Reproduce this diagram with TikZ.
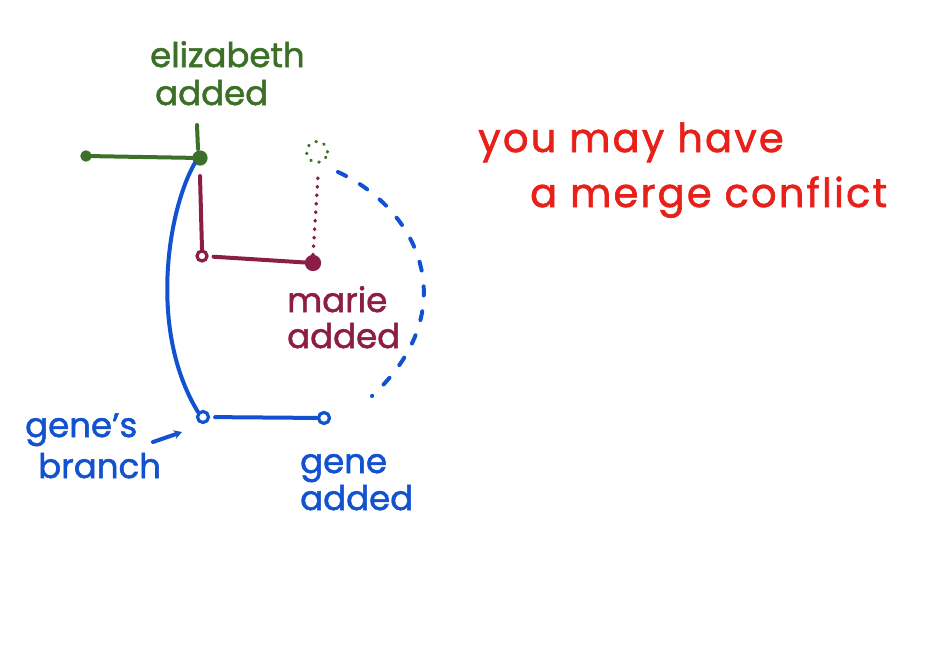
\documentclass[tikz,border=0pt]{standalone}
\usepackage{fontspec}
\setmainfont{Poppins}[FakeBold=1.6]
\usetikzlibrary{arrows.meta}
\definecolor{eg}{RGB}{60,112,40}
\definecolor{mr}{RGB}{140,30,70}
\definecolor{bl}{RGB}{18,82,208}
\definecolor{rd}{RGB}{232,32,26}
\tikzset{
  pen/.style={line width=4pt, line cap=round},
  lbl/.style={anchor=base west, inner sep=0pt, font=\fontsize{34}{34}\selectfont},
  bigl/.style={anchor=base west, inner sep=0pt, font=\fontsize{40}{40}\selectfont\addfontfeatures{LetterSpace=5.5}},
  dotc/.style={circle, inner sep=0pt, line width=3.2pt},
  sparsedots/.style={line cap=round, dash pattern=on 0.5pt off 8pt},
}
\begin{document}
\begin{tikzpicture}[x=1pt,y=-1pt]
\useasboundingbox (0,0) rectangle (930,646);
% green
\node[dotc, draw=eg, fill=eg, minimum size=8pt] (g0) at (86,156) {};
\node[dotc, draw=eg, fill=eg, minimum size=12pt] (e) at (200,158) {};
\node[dotc, draw=eg, sparsedots, line width=3.2pt, minimum size=21pt] (ghost) at (317,152) {};
\draw[pen, eg] (g0) -- (e);
\coordinate (t1) at (197,125);
\coordinate (t2) at (198,149);
\draw[pen, eg] (t1) -- (t2);
\node[lbl, eg] (el1) at (150,67) {elizabeth};
\node[lbl, eg] (el2) at (155,105) {added};
% maroon
\node[dotc, draw=mr, minimum size=10pt] (m0) at (202,256) {};
\node[dotc, draw=mr, fill=mr, minimum size=13pt] (m1) at (313,263) {};
\coordinate (mtop) at (200,176);
\coordinate (mdot) at (318,176);
\draw[pen, mr] (mtop) -- (m0.north);
\draw[pen, mr, shorten <=5pt] (m0) -- (m1);
\draw[pen, mr, sparsedots, line width=3.6pt] (m1.north) -- (mdot);
\node[lbl, mr] (ml1) at (287,312) {marie};
\node[lbl, mr] (ml2) at (287,348) {added};
% blue
\node[dotc, draw=bl, minimum size=11pt] (b0) at (203,417) {};
\node[dotc, draw=bl, minimum size=11pt] (b1) at (324,418) {};
\draw[pen, bl] (e.south west) .. controls (168,210) and (148,330) .. (b0.north west);
\draw[pen, bl, shorten <=5pt] (b0) -- (b1);
\coordinate (d1) at (338,172);
\coordinate (d2) at (372,396);
\draw[pen, bl, dash pattern=on 9pt off 16pt] (d1) .. controls (420,210) and (465,310) .. (d2);
\coordinate (a1) at (153,442);
\coordinate (a2) at (182,432);
\draw[pen, bl, -{Stealth[length=8pt,width=9pt]}] (a1) -- (a2);
\node[lbl, bl] (bl1) at (25,437) {gene's};
\node[lbl, bl] (bl2) at (38,478) {branch};
\node[lbl, bl] (gl1) at (300,473) {gene};
\node[lbl, bl] (gl2) at (300,510) {added};
% red
\node[bigl, rd] (r1) at (478,152) {you may have};
\node[bigl, rd] (r2) at (530,207) {a merge conflict};
\end{tikzpicture}
\end{document}
